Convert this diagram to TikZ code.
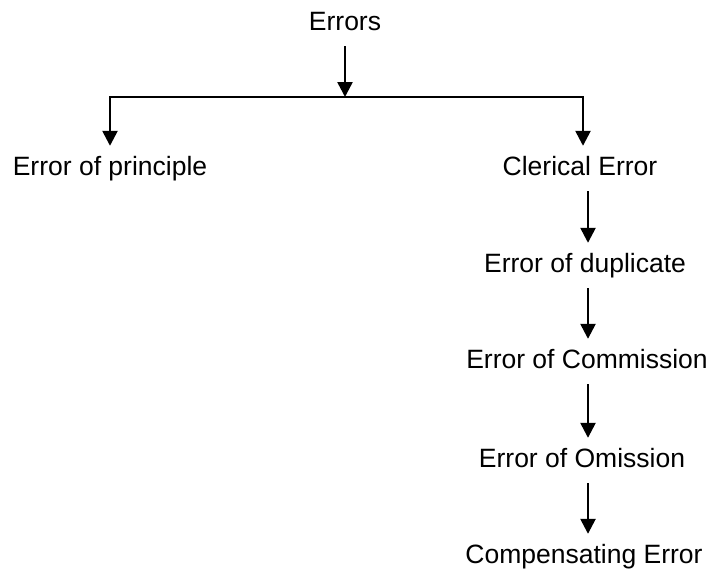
\documentclass[tikz,border=0pt]{standalone}
\usepackage{fontspec}
\setmainfont{Liberation Sans}
\usetikzlibrary{arrows.meta}
\begin{document}
\begin{tikzpicture}[x=1pt,y=-1pt,
  lbl/.style={font=\fontsize{26.5}{30}\selectfont, inner xsep=0pt, inner ysep=10pt,
              text height=19pt, text depth=6pt, anchor=base},
  conn/.style={line width=2.5pt, line cap=rect},
  arr/.style={line width=2.5pt, -{Triangle[width=15pt,length=15pt]}}]
\useasboundingbox[fill=white] (0,0) rectangle (711,571);
\node[lbl] (err) at (345,30) {Errors};
\node[lbl] (pri) at (110,175) {Error of principle};
\node[lbl] (cle) at (580,175) {Clerical Error};
\node[lbl] (dup) at (585,272) {Error of duplicate};
\node[lbl] (com) at (587,368) {Error of Commission};
\node[lbl] (omi) at (582,467) {Error of Omission};
\node[lbl] (cmp) at (584,563) {Compensating Error};
\coordinate (jL) at (110,97);
\coordinate (jR) at (583,97);
\coordinate (col) at (588,0);
\draw[conn] (jL) -- (jR);
\draw[arr] (err.south) -- (err.south |- jL);
\draw[arr] (jL) -- (jL |- pri.north);
\draw[arr] (jR) -- (jR |- cle.north);
\draw[arr] (col |- cle.south) -- (col |- dup.north);
\draw[arr] (col |- dup.south) -- (col |- com.north);
\draw[arr] (col |- com.south) -- (col |- omi.north);
\draw[arr] (col |- omi.south) -- (col |- cmp.north);
\end{tikzpicture}
\end{document}
